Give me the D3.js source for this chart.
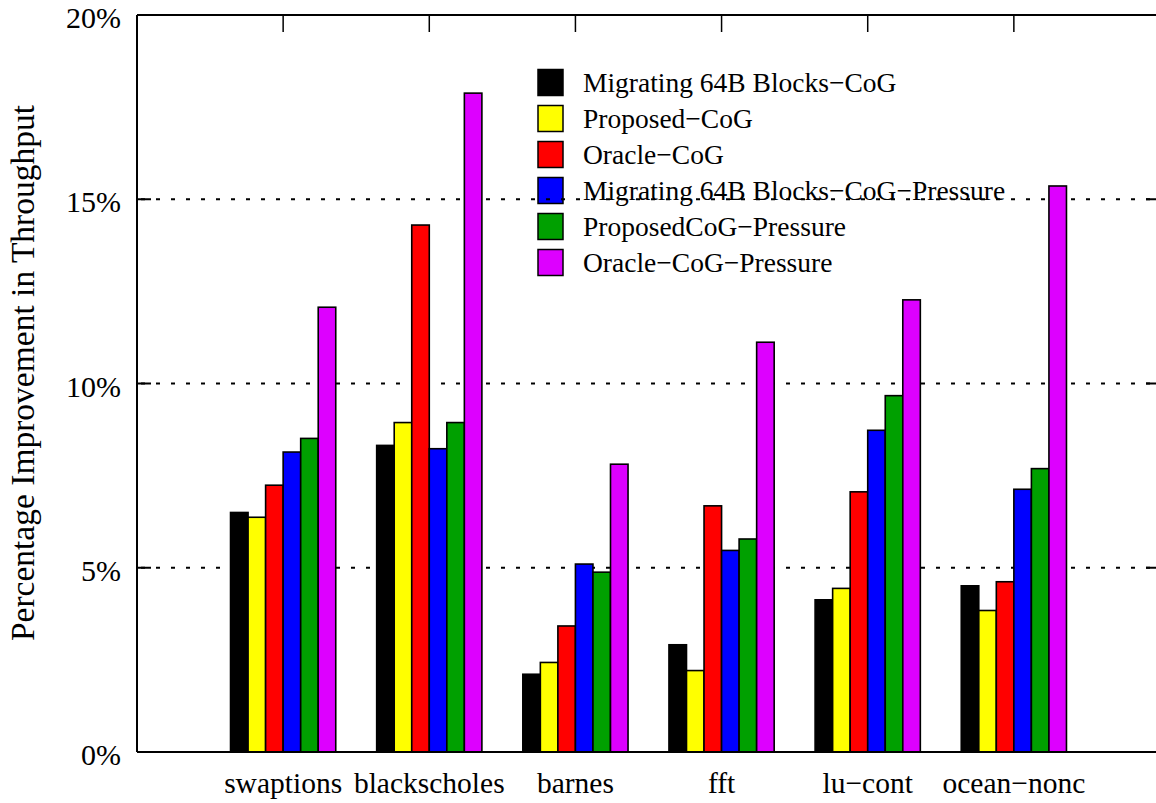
<!DOCTYPE html>
<html>
<head>
<meta charset="utf-8">
<script src="https://cdn.jsdelivr.net/npm/d3@7"></script>
<style>
  html, body { margin: 0; padding: 0; background: #fff; }
  svg { display: block; }
  text { font-family: "Liberation Serif", "Times New Roman", serif; fill: #000; }
</style>
</head>
<body>
<svg id="chart" width="1156" height="803"></svg>
<script>
// ---- data ----
const categories = ["swaptions", "blackscholes", "barnes", "fft", "lu\u2212cont", "ocean\u2212nonc"];
const seriesNames = [
  "Migrating 64B Blocks\u2212CoG",
  "Proposed\u2212CoG",
  "Oracle\u2212CoG",
  "Migrating 64B Blocks\u2212CoG\u2212Pressure",
  "ProposedCoG\u2212Pressure",
  "Oracle\u2212CoG\u2212Pressure"
];
const seriesColors = ["#000000", "#ffff00", "#ff0000", "#0000ff", "#00a000", "#dd00ff"];
const migratingCoG         = [6.50, 8.32, 2.11, 2.91, 4.13, 4.51];
const proposedCoG          = [6.37, 8.94, 2.43, 2.21, 4.44, 3.84];
const oracleCoG            = [7.24, 14.30, 3.42, 6.68, 7.06, 4.62];
const migratingCoGPressure = [8.14, 8.23, 5.10, 5.47, 8.73, 7.13];
const proposedCoGPressure  = [8.51, 8.94, 4.88, 5.78, 9.67, 7.69];
const oracleCoGPressure    = [12.07, 17.88, 7.81, 11.12, 12.27, 15.36];
const seriesValues = [migratingCoG, proposedCoG, oracleCoG, migratingCoGPressure, proposedCoGPressure, oracleCoGPressure];
const yTicks = [0, 5, 10, 15, 20];
const yTickLabels = ["0%", "5%", "10%", "15%", "20%"];
const yTitle = "Percentage Improvement in Throughput";

(function () {
// ---- layout ----
const svg = d3.select("#chart");
const pLeft = 137, pRight = 1160, pTop = 15, pBottom = 752;
const x = d3.scaleLinear().domain([0, categories.length + 1]).range([pLeft, pRight]);
const y = d3.scaleLinear().domain([0, 20]).range([pBottom, pTop]);
const barW = 0.12; // in category units
const nS = seriesNames.length;

// legend (drawn first; grid passes over it as in original)
const legend = svg.append("g");
seriesNames.forEach((name, i) => {
  const cy = 82.5 + i * 36;
  legend.append("rect")
    .attr("x", 538).attr("y", cy - 13).attr("width", 25).attr("height", 26)
    .attr("fill", seriesColors[i]).attr("stroke", "#000").attr("stroke-width", 1.5);
  legend.append("text")
    .attr("x", 583).attr("y", cy + 9)
    .attr("font-size", 27.5)
    .text(name);
});

// grid lines
const grid = svg.append("g");
yTicks.filter(t => t > 0 && t < 20).forEach(t => {
  grid.append("line")
    .attr("x1", pLeft).attr("x2", pRight)
    .attr("y1", y(t)).attr("y2", y(t))
    .attr("stroke", "#000").attr("stroke-width", 2)
    .attr("stroke-dasharray", "4,11")
    .attr("stroke-dashoffset", -4);
});

// bars
const barsG = svg.append("g");
categories.forEach((c, ci) => {
  const cx = ci + 1;
  seriesValues.forEach((vals, si) => {
    const x0 = cx - (nS * barW) / 2 + si * barW;
    barsG.append("rect")
      .attr("x", x(x0))
      .attr("y", y(vals[ci]))
      .attr("width", x(x0 + barW) - x(x0))
      .attr("height", y(0) - y(vals[ci]))
      .attr("fill", seriesColors[si])
      .attr("stroke", "#000")
      .attr("stroke-width", 1.6);
  });
});

// frame
const frame = svg.append("g").attr("stroke", "#000").attr("stroke-width", 2).attr("fill", "none");
frame.append("line").attr("x1", pLeft).attr("x2", pRight).attr("y1", pTop).attr("y2", pTop);
frame.append("line").attr("x1", pLeft).attr("x2", pRight).attr("y1", pBottom).attr("y2", pBottom);
frame.append("line").attr("x1", pLeft).attr("x2", pLeft).attr("y1", pTop).attr("y2", pBottom);
frame.append("line").attr("x1", pRight).attr("x2", pRight).attr("y1", pTop).attr("y2", pBottom);

// y ticks (left and right, inward)
yTicks.forEach(t => {
  frame.append("line").attr("x1", pLeft).attr("x2", pLeft + 14).attr("y1", y(t)).attr("y2", y(t));
  frame.append("line").attr("x1", pRight).attr("x2", pRight - 14).attr("y1", y(t)).attr("y2", y(t));
});
// x ticks on top (inward)
categories.forEach((c, ci) => {
  frame.append("line").attr("x1", x(ci + 1)).attr("x2", x(ci + 1)).attr("y1", pTop).attr("y2", pTop + 17).attr("stroke-width", 1.5);
});

// y tick labels
yTicks.forEach((t, i) => {
  svg.append("text")
    .attr("x", 121).attr("y", y(t) + 13)
    .attr("text-anchor", "end")
    .attr("font-size", 30)
    .text(yTickLabels[i]);
});

// x labels
categories.forEach((c, ci) => {
  svg.append("text")
    .attr("x", x(ci + 1)).attr("y", 793)
    .attr("text-anchor", "middle")
    .attr("font-size", 29.5)
    .text(c);
});

// y title
svg.append("text")
  .attr("transform", `translate(34, 373) rotate(-90)`)
  .attr("text-anchor", "middle")
  .attr("font-size", 33.5)
  .text(yTitle);
})();
</script>
</body>
</html>
